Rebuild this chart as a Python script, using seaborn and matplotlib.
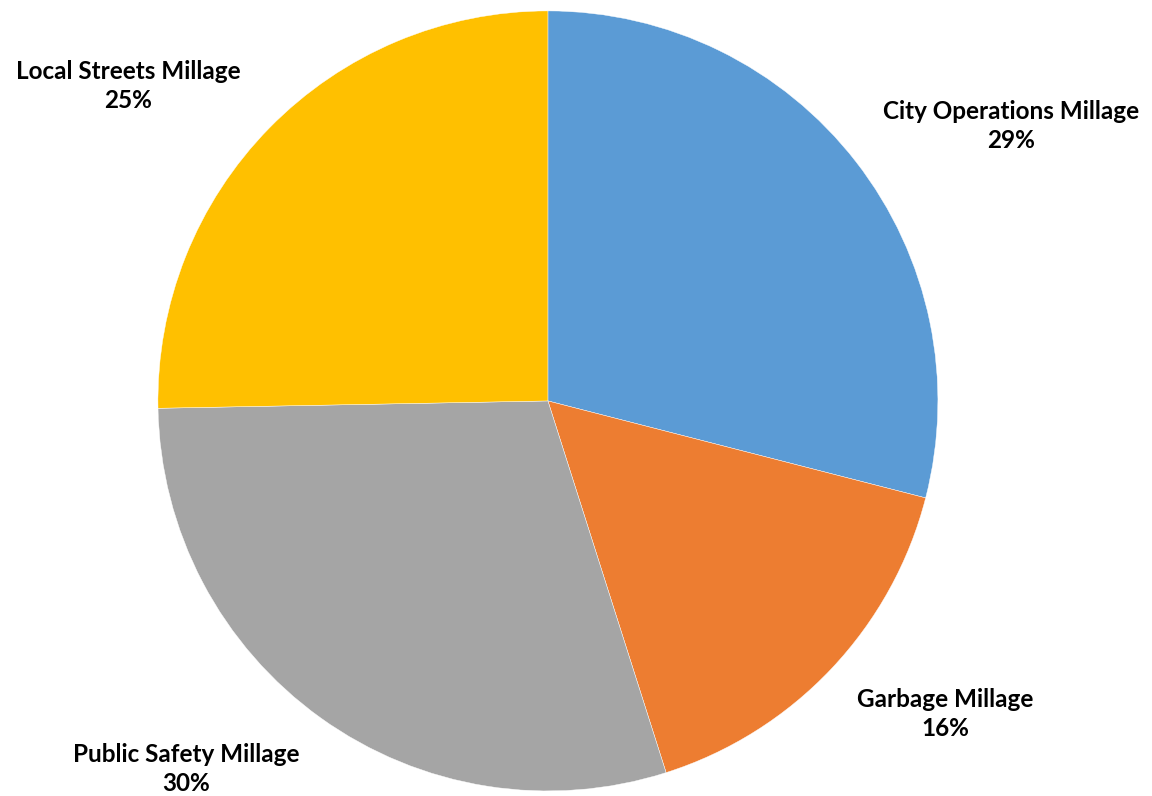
import matplotlib.pyplot as plt
import seaborn as sns

sns.set_theme(style="white")
plt.rcParams["font.family"] = ["Lato", "DejaVu Sans"]

categories = ["City Operations Millage", "Garbage Millage", "Public Safety Millage", "Local Streets Millage"]
shares = [29.0, 16.1, 29.6, 25.3]
colors = ["#5B9BD5", "#ED7D31", "#A5A5A5", "#FFC000"]
# label anchor positions in pie units (radius 1)
label_pos = [(1.187, 0.705), (1.018, -0.803), (-0.928, -0.944), (-1.077, 0.808)]

fig = plt.figure(figsize=(11.52, 7.96), dpi=100)
ax = fig.add_axes([0, 0, 1, 1])
ax.pie(shares, colors=colors, startangle=90, counterclock=False, radius=1,
       wedgeprops=dict(edgecolor="white", linewidth=0.3))
total = sum(shares)
for name, val, (x, y) in zip(categories, shares, label_pos):
    ax.text(x, y, f"{name}\n{val / total * 100:.0f}%", ha="center", va="center",
            fontsize=17.5, fontweight="bold", color="black", linespacing=1.33)
ax.set_xlim(-1.405, 1.549)
ax.set_ylim(-1.013, 1.028)
ax.set_aspect("auto")
ax.axis("off")
fig.savefig("out.png", dpi=100)
